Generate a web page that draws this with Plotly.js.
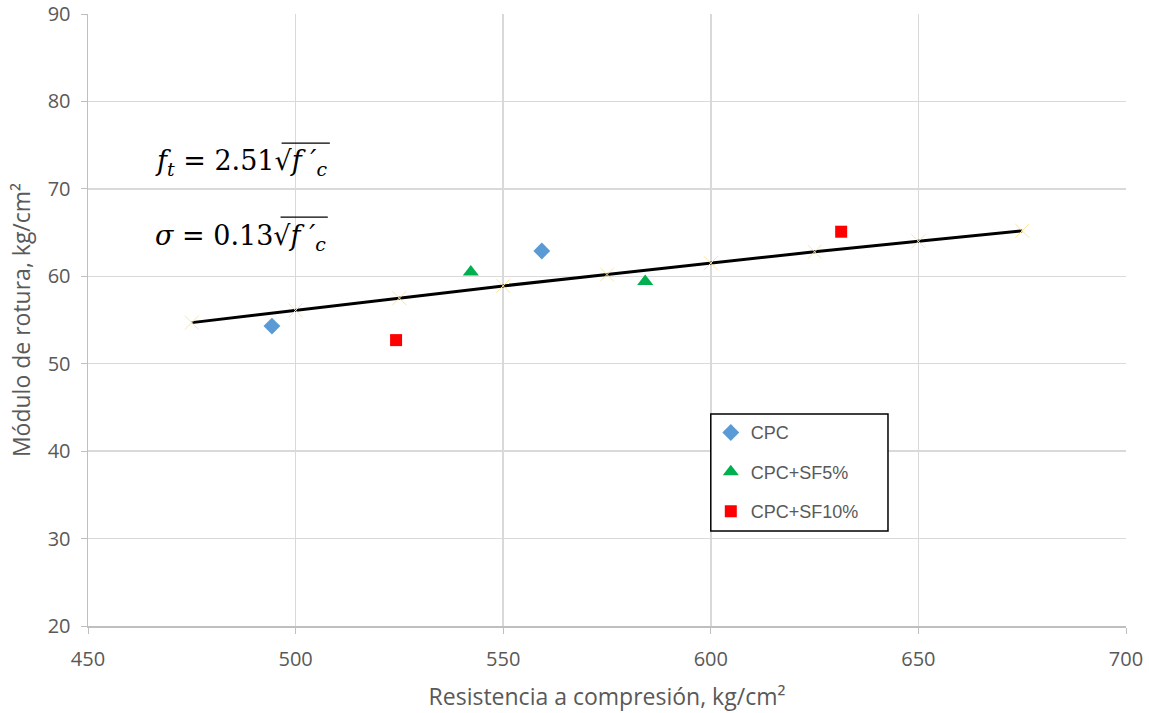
<!DOCTYPE html>
<html>
<head>
<meta charset="utf-8">
<script src="https://cdn.plot.ly/plotly-3.0.1.min.js"></script>
<style>html,body{margin:0;padding:0;background:#fff;}#chart{width:1149px;height:713px;}</style>
</head>
<body>
<div id="chart"></div>
<script>
// Data
const cpcX = [494.3, 559.3];
const cpcY = [54.3, 62.9];
const sf5X = [542.2, 584.2];
const sf5Y = [60.5, 59.4];
const sf10X = [524.2, 631.4];
const sf10Y = [52.7, 65.1];
const fitX = [475, 500, 525, 550, 575, 600, 625, 650, 675];
const fitY = [54.7, 56.1, 57.5, 58.9, 60.2, 61.5, 62.8, 64.0, 65.2];
const xTicks = [450, 500, 550, 600, 650, 700];
const yTicks = [20, 30, 40, 50, 60, 70, 80, 90];
const seriesNames = ['CPC', 'CPC+SF5%', 'CPC+SF10%'];

const sans = 'Open Sans, Liberation Sans, Arial, sans-serif';
const tickFont = {family: sans, size: 20, color: '#595959'};
const titleFont = {family: sans, size: 23, color: '#595959'};

const traces = [
  {x: fitX, y: fitY, mode: 'lines+markers', showlegend: false,
   line: {color: '#000000', width: 3},
   marker: {symbol: 'x-thin-open', size: 14, color: '#FFE699', line: {width: 1, color: '#FFE699'}},
   hoverinfo: 'skip'},
  {x: cpcX, y: cpcY, mode: 'markers', name: seriesNames[0], legendgroup: 'a',
   marker: {symbol: 'diamond', size: 13, color: '#5B9BD5'}},
  {x: sf5X, y: sf5Y, mode: 'markers', name: seriesNames[1], legendgroup: 'b',
   marker: {symbol: 'triangle-up', size: 14, color: '#00B050'}},
  {x: sf10X, y: sf10Y, mode: 'markers', name: seriesNames[2], legendgroup: 'c',
   marker: {symbol: 'square', size: 12, color: '#FF0000'}}
];

const mathFont = {family: 'DejaVu Serif, Liberation Serif, serif', size: 27, color: '#000000'};

const layout = {
  width: 1149, height: 713,
  margin: {l: 88, r: 23, t: 14, b: 87},
  paper_bgcolor: '#ffffff', plot_bgcolor: '#ffffff',
  showlegend: true,
  xaxis: {
    range: [450, 700], tickvals: xTicks, ticktext: xTicks.map(String),
    showgrid: true, gridcolor: '#d9d9d9', gridwidth: 1.5,
    showline: true, linecolor: '#bfbfbf', linewidth: 1.5,
    ticks: 'outside', ticklen: 6, tickcolor: '#bfbfbf', ticklabelstandoff: 8,
    zeroline: false, tickfont: tickFont,
    title: {text: 'Resistencia a compresión, kg/cm²', font: titleFont, standoff: 18}
  },
  yaxis: {
    range: [20, 90], tickvals: yTicks, ticktext: yTicks.map(String),
    showgrid: true, gridcolor: '#d9d9d9', gridwidth: 1.5,
    showline: true, linecolor: '#bfbfbf', linewidth: 1.5,
    ticks: 'outside', ticklen: 6, tickcolor: '#bfbfbf', ticklabelstandoff: 6,
    zeroline: false, tickfont: tickFont,
    title: {text: 'Módulo de rotura, kg/cm²', font: titleFont, standoff: 10}
  },
  legend: {
    x: 0.6, y: 0.346, xanchor: 'left', yanchor: 'top',
    bgcolor: 'rgba(0,0,0,0)', borderwidth: 0,
    font: {family: 'Liberation Sans, Arial, sans-serif', size: 18, color: '#595959'},
    traceorder: 'grouped', tracegroupgap: 13,
    itemwidth: 30
  },
  shapes: [
    {type: 'rect', xref: 'paper', yref: 'paper', x0: 0.6, x1: 0.7707, y0: 0.1552, y1: 0.3464,
     line: {color: '#000000', width: 1.5}, fillcolor: '#ffffff', layer: 'above'},
    {type: 'line', xref: 'paper', yref: 'paper', x0: 0.1865, x1: 0.233, y0: 0.789, y1: 0.789,
     line: {color: '#000000', width: 1.3}},
    {type: 'line', xref: 'paper', yref: 'paper', x0: 0.1855, x1: 0.231, y0: 0.668, y1: 0.668,
     line: {color: '#000000', width: 1.3}}
  ],
  annotations: [
    {xref: 'paper', yref: 'paper', x: 0.063, y: 0.758, xanchor: 'left', yanchor: 'middle', showarrow: false,
     text: '<i>f</i><sub><i>t</i></sub> = 2.51√<i>f ′</i><sub><i>c</i></sub>', font: mathFont},
    {xref: 'paper', yref: 'paper', x: 0.063, y: 0.635, xanchor: 'left', yanchor: 'middle', showarrow: false,
     text: '<i>σ</i> = 0.13√<i>f ′</i><sub><i>c</i></sub>', font: mathFont}
  ]
};

Plotly.newPlot('chart', traces, layout, {displayModeBar: false, staticPlot: true});
</script>
</body>
</html>
